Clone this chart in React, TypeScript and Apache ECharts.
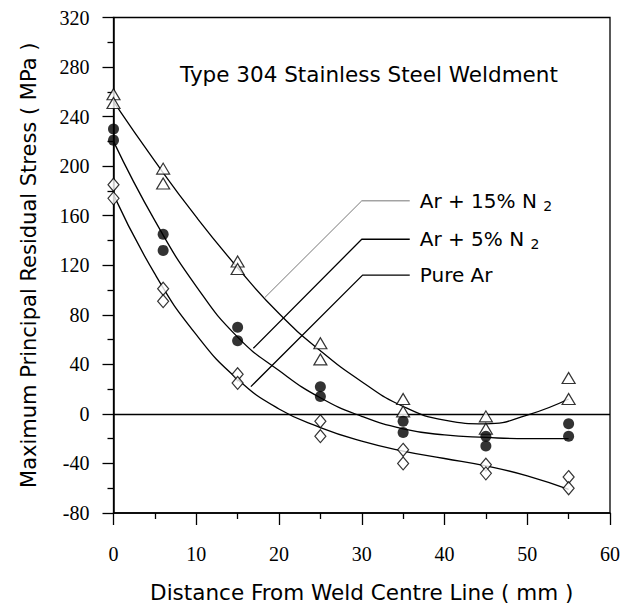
import React, { useEffect, useRef } from "react";
import * as echarts from "echarts";

// Measured points (two specimens per position)
const distances = [0, 6, 15, 25, 35, 45, 55];
const ar15Upper = [258, 198, 123, 57, 12, -2, 29];
const ar15Lower = [251, 186, 117, 44, 2, -12, 12];
const ar5Upper = [230, 145, 70, 22, -6, -18, -8];
const ar5Lower = [221, 132, 59, 14, -15, -26, -18];
const pureArUpper = [185, 101, 32, -6, -29, -41, -51];
const pureArLower = [174, 91, 25, -18, -40, -48, -60];

// Fitted curves
const curveX = [0, 5, 10, 15, 20, 25, 30, 35, 40, 45, 50, 55];
const ar15Curve = [252, 204, 159, 118, 81, 51, 26, 6, -5, -8, -1, 12];
const ar5Curve = [220, 156, 103, 62, 35, 13, -2, -12, -17, -19, -20, -20];
const pureArCurve = [177, 113, 64, 28, 4, -11, -22, -30, -36, -42, -50, -61];

// Leader lines for the labels (data coordinates)
const leader15 = [[18.3, 94], [30, 172], [35.8, 172]];
const leader5 = [[16.9, 53], [30, 141], [35.8, 141]];
const leaderPure = [[16.6, 22], [30.1, 112], [35.8, 112]];

const labelNames = ["Ar + 15% N {sub|2}", "Ar + 5% N {sub|2}", "Pure Ar"];
const chartTitle = "Type 304 Stainless Steel Weldment";
const xTitle = "Distance From Weld Centre Line ( mm )";
const yTitle = "Maximum Principal Residual Stress ( MPa )";

const SANS = "DejaVu Sans";
const SERIF = "Liberation Serif";

function pairs(xs: number[], a: number[], b: number[]) {
  const out: number[][] = [];
  xs.forEach((x, i) => {
    out.push([x, a[i]]);
    out.push([x, b[i]]);
  });
  return out;
}

function curve(xs: number[], ys: number[]) {
  return xs.map((x, i) => [x, ys[i]]);
}

function leaderSeries(pts: number[][], label: string, color: string, width: number) {
  return {
    type: "line",
    data: pts,
    showSymbol: false,
    symbol: "none",
    lineStyle: { color, width },
    silent: true,
    z: 3,
    endLabel: {
      show: true,
      distance: 10,
      formatter: () => label,
      color: "#000",
      fontFamily: SANS,
      fontSize: 20,
      rich: {
        sub: { fontFamily: SANS, fontSize: 14, color: "#000", padding: [10, 0, 0, 0] },
      },
    },
  };
}

export default function App() {
  const ref = useRef<HTMLDivElement>(null);
  useEffect(() => {
    if (!ref.current) return;
    const chart = echarts.init(ref.current, null, { renderer: "svg" });
    const curveStyle = { color: "#000", width: 1.3 };
    chart.setOption({
      animation: false,
      backgroundColor: "#fff",
      title: {
        text: chartTitle,
        left: 364,
        textAlign: "center",
        top: 58,
        textStyle: { fontFamily: SANS, fontSize: 21.5, fontWeight: "normal", color: "#000" },
      },
      grid: {
        left: 113.5,
        right: 26,
        top: 17.5,
        bottom: 90.5,
        show: true,
        borderColor: "#000",
        borderWidth: 1.3,
      },
      xAxis: {
        type: "value",
        min: 0,
        max: 60,
        interval: 10,
        name: xTitle,
        nameLocation: "middle",
        nameGap: 68,
        nameTextStyle: { fontFamily: SANS, fontSize: 21.5, color: "#000" },
        axisLine: { show: true, onZero: false, lineStyle: { color: "#000", width: 1.5 } },
        axisTick: { show: true, inside: false, length: 12, lineStyle: { color: "#000", width: 1.3 } },
        minorTick: { show: true, splitNumber: 2, length: 6, lineStyle: { color: "#000", width: 1.3 } },
        axisLabel: { fontFamily: SERIF, fontSize: 20, color: "#000", margin: 31 },
        splitLine: { show: false },
      },
      yAxis: {
        type: "value",
        min: -80,
        max: 320,
        interval: 40,
        name: yTitle,
        nameLocation: "middle",
        nameGap: 74,
        nameTextStyle: { fontFamily: SANS, fontSize: 21, color: "#000" },
        axisLine: { show: true, onZero: false, lineStyle: { color: "#000", width: 1.5 } },
        axisTick: { show: true, inside: false, length: 11, lineStyle: { color: "#000", width: 1.3 } },
        minorTick: { show: true, splitNumber: 2, length: 6, lineStyle: { color: "#000", width: 1.3 } },
        axisLabel: { fontFamily: SERIF, fontSize: 20, color: "#000", margin: 24 },
        splitLine: { show: false },
      },
      series: [
        {
          type: "line",
          data: curve(curveX, ar15Curve),
          smooth: 0.5,
          showSymbol: false,
          lineStyle: curveStyle,
          z: 2,
          markLine: {
            silent: true,
            symbol: "none",
            label: { show: false },
            lineStyle: { color: "#000", width: 1.3, type: "solid" },
            data: [{ yAxis: 0 }],
          },
        },
        {
          type: "line",
          data: curve(curveX, ar5Curve),
          smooth: 0.5,
          showSymbol: false,
          lineStyle: curveStyle,
          z: 2,
        },
        {
          type: "line",
          data: curve(curveX, pureArCurve),
          smooth: 0.5,
          showSymbol: false,
          lineStyle: curveStyle,
          z: 2,
        },
        leaderSeries(leader15, labelNames[0], "#777", 1),
        leaderSeries(leader5, labelNames[1], "#000", 1.3),
        leaderSeries(leaderPure, labelNames[2], "#000", 1.3),
        {
          type: "scatter",
          data: pairs(distances, ar15Upper, ar15Lower),
          symbol: "triangle",
          symbolSize: [13, 11],
          itemStyle: { color: "#fff", borderColor: "#000", borderWidth: 1.2 },
          z: 5,
        },
        {
          type: "scatter",
          data: pairs(distances, ar5Upper, ar5Lower),
          symbol: "circle",
          symbolSize: 11,
          itemStyle: { color: "#000" },
          z: 5,
        },
        {
          type: "scatter",
          data: pairs(distances, pureArUpper, pureArLower),
          symbol: "diamond",
          symbolSize: [11, 13],
          itemStyle: { color: "#fff", borderColor: "#000", borderWidth: 1.2 },
          z: 5,
        },
      ],
    });
    return () => chart.dispose();
  }, []);
  return (
    <div
      ref={ref}
      style={{ position: "absolute", left: 0, top: 0, width: 636, height: 608, background: "#fff" }}
    />
  );
}
